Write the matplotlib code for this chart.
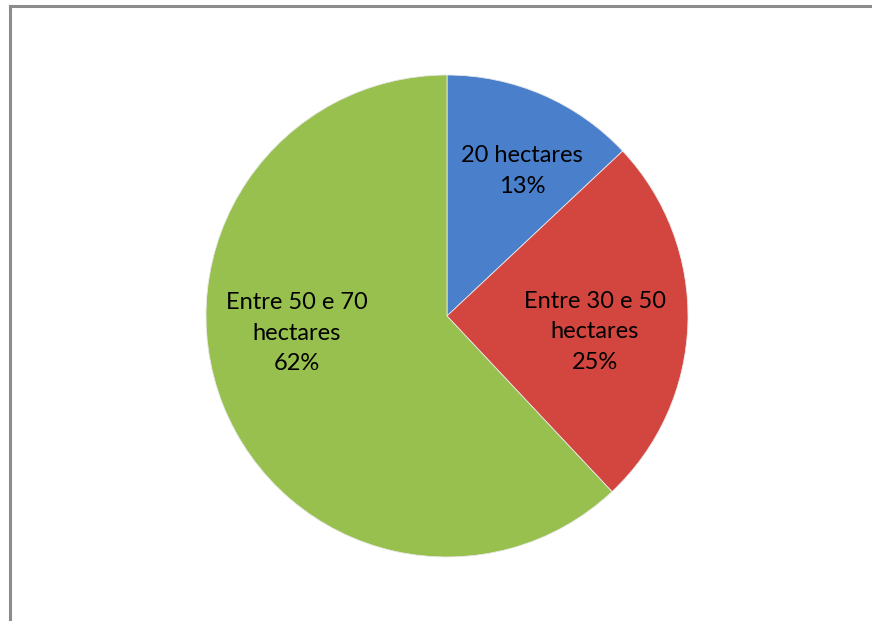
import matplotlib
matplotlib.use("Agg")
import matplotlib.pyplot as plt
from matplotlib.lines import Line2D

categories = ["20 hectares", "Entre 30 e 50\nhectares", "Entre 50 e 70\nhectares"]
values = [13, 25, 62]
colors = ["#4a7fcb", "#d2463f", "#98c04f"]

W, H = 872, 621
fig = plt.figure(figsize=(W / 100, H / 100), dpi=100)
fig.patch.set_facecolor("white")

# chart frame (only top and left edges visible)
fig.add_artist(Line2D([9.5 / W, 1.0], [1 - 6 / H, 1 - 6 / H], color="#8c8c8c", lw=2.2, transform=fig.transFigure))
fig.add_artist(Line2D([9.5 / W, 9.5 / W], [0.0, 1 - 6 / H], color="#8c8c8c", lw=2.2, transform=fig.transFigure))

cx, cy, r = 447, 316, 241
ax = fig.add_axes([(cx - r) / W, (H - cy - r) / H, 2 * r / W, 2 * r / H])
wedges, _ = ax.pie(values, colors=colors, startangle=90, counterclock=False,
                   wedgeprops=dict(edgecolor="#e8e8e8", linewidth=0.6))
ax.set_xlim(-1, 1)
ax.set_ylim(-1, 1)
ax.set_aspect("equal")

total = sum(values)
label_pos = [(522, 171), (595, 332), (297, 333)]
for (px, py), cat, v in zip(label_pos, categories, values):
    ax.text((px - cx) / r, (cy - py) / r, f"{cat}\n{round(100 * v / total)}%", ha="center", va="center",
            fontsize=17, family="Lato", color="black", linespacing=1.55)

fig.savefig("out.png", dpi=100, facecolor="white")
